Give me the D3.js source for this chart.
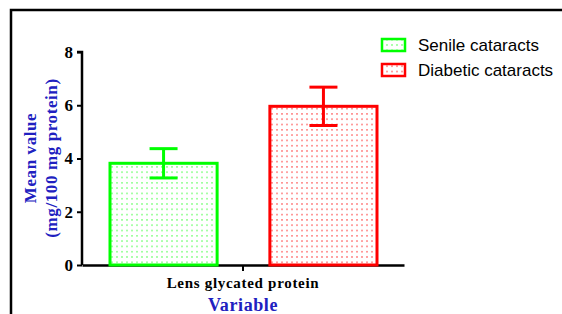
<!DOCTYPE html>
<html>
<head>
<meta charset="utf-8">
<script src="https://cdn.jsdelivr.net/npm/d3@7"></script>
<style>
  body { margin: 0; background: #fff; }
  svg { display: block; }
</style>
</head>
<body>
<div id="chart"></div>
<script>
// chart values
var categories = ["Lens glycated protein"];
var seriesNames = ["Senile cataracts", "Diabetic cataracts"];
var meanValues = [3.82, 5.96];
var errValues = [0.55, 0.72];
var yTicks = [0, 2, 4, 6, 8];

var colors = ["#00ff00", "#ff0000"];
var dotColors = ["#7cff7c", "#ff6f6f"];

var width = 562;
var height = 314;

var svg = d3.select("#chart")
  .append("svg")
  .attr("width", width)
  .attr("height", height);

// dotted fill patterns
var defs = svg.append("defs");
seriesNames.forEach(function(s, i) {
  var p = defs.append("pattern")
    .attr("id", "dots" + i)
    .attr("patternUnits", "userSpaceOnUse")
    .attr("width", 5)
    .attr("height", 5.3);
  p.append("rect").attr("width", 5).attr("height", 5.3).attr("fill", "#fff");
  p.append("rect").attr("x", 1).attr("y", 2).attr("width", 2).attr("height", 1.2)
    .attr("fill", dotColors[i]);
});

// outer frame
svg.append("path")
  .attr("d", "M11,316 L11,10 L566,10")
  .attr("fill", "none")
  .attr("stroke", "#000")
  .attr("stroke-width", 2.5);

// scales
var y = d3.scaleLinear().domain([0, 8]).range([265, 52]);
var x0 = d3.scaleBand().domain(categories).range([82, 404]);
var x1 = d3.scaleBand().domain(seriesNames).range([28, 295]).paddingInner(0.33).paddingOuter(0);

// y axis
var yAxis = svg.append("g")
  .attr("transform", "translate(82,0)")
  .call(d3.axisLeft(y).tickValues(yTicks).tickSize(5).tickPadding(4).tickFormat(d3.format("d")));
yAxis.select(".domain").attr("stroke-width", 2.5).attr("d", "M-5," + y(8) + "H0V" + y(0));
yAxis.selectAll(".tick line").attr("stroke-width", 2);
yAxis.selectAll("text")
  .attr("font-family", "Liberation Serif, Times New Roman, serif")
  .attr("font-weight", "bold")
  .attr("font-size", 17)
  .attr("fill", "#000");

// x axis
var xAxis = svg.append("g")
  .attr("transform", "translate(0,265)")
  .call(d3.axisBottom(x0).tickSize(6).tickPadding(6).tickSizeOuter(0));
xAxis.select(".domain").attr("stroke-width", 2.5);
xAxis.selectAll(".tick line").attr("stroke-width", 2);
xAxis.selectAll("text")
  .attr("font-family", "Liberation Serif, Times New Roman, serif")
  .attr("font-weight", "bold")
  .attr("font-size", 15)
  .attr("letter-spacing", 0.7)
  .attr("fill", "#000");

// bars
var group = svg.append("g");
seriesNames.forEach(function(s, i) {
  var cat = categories[0];
  var bx = x0(cat) + x1(s);
  var bw = x1.bandwidth();
  group.append("rect")
    .attr("x", bx)
    .attr("y", y(meanValues[i]))
    .attr("width", bw)
    .attr("height", y(0) - y(meanValues[i]))
    .attr("fill", "url(#dots" + i + ")")
    .attr("stroke", colors[i])
    .attr("stroke-width", 3);

  // error bars
  var cx = bx + bw / 2;
  var capW = 14;
  var top = y(meanValues[i] + errValues[i]);
  var bot = y(meanValues[i] - errValues[i]);
  var eg = group.append("g").attr("stroke", colors[i]).attr("stroke-width", 3);
  eg.append("line").attr("x1", cx).attr("x2", cx).attr("y1", top).attr("y2", bot);
  eg.append("line").attr("x1", cx - capW).attr("x2", cx + capW).attr("y1", top).attr("y2", top);
  eg.append("line").attr("x1", cx - capW).attr("x2", cx + capW).attr("y1", bot).attr("y2", bot);
});

// axis titles
var titleColor = "#2020c0";
svg.append("text")
  .attr("x", 243)
  .attr("y", 311)
  .attr("text-anchor", "middle")
  .attr("font-family", "Liberation Serif, Times New Roman, serif")
  .attr("font-weight", "bold")
  .attr("font-size", 18)
  .attr("letter-spacing", 0.6)
  .attr("fill", titleColor)
  .text("Variable");

var yTitle = svg.append("text")
  .attr("transform", "translate(0,158) rotate(-90)")
  .attr("text-anchor", "middle")
  .attr("font-family", "Liberation Serif, Times New Roman, serif")
  .attr("font-weight", "bold")
  .attr("font-size", 17)
  .attr("letter-spacing", 0.6)
  .attr("fill", titleColor);
yTitle.append("tspan").attr("x", 0).attr("y", 36).text("Mean value");
yTitle.append("tspan").attr("x", 0).attr("y", 57).text("(mg/100 mg protein)");

// legend
var legend = svg.append("g");
seriesNames.forEach(function(s, i) {
  var ly = 39 + i * 25;
  legend.append("rect")
    .attr("x", 382)
    .attr("y", ly)
    .attr("width", 23)
    .attr("height", 12)
    .attr("fill", "url(#dots" + i + ")")
    .attr("stroke", colors[i])
    .attr("stroke-width", 2.5);
  legend.append("text")
    .attr("x", 418)
    .attr("y", ly + 12)
    .attr("font-family", "Liberation Sans, Arial, sans-serif")
    .attr("font-size", 17)
    .attr("fill", "#000")
    .text(s);
});
</script>
</body>
</html>
